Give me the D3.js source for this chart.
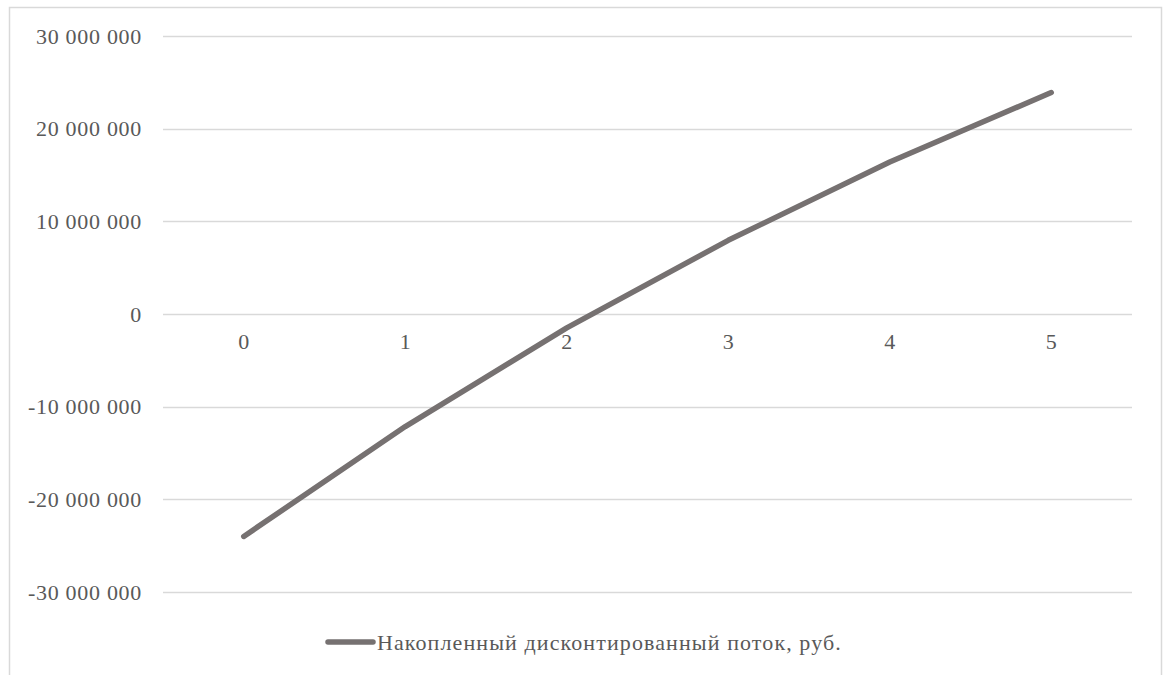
<!DOCTYPE html>
<html>
<head>
<meta charset="utf-8">
<script src="https://cdn.jsdelivr.net/npm/d3@7"></script>
<style>
  html, body { margin: 0; padding: 0; background: #fff; }
  svg { display: block; }
  svg text { font-family: 'Liberation Serif', Tinos, 'Times New Roman', Times, 'DejaVu Serif', serif !important; fill: #595959; font-size: 22px; }
  .ylab text { letter-spacing: 0.7px; }
  .legend text { letter-spacing: 1.1px; }
</style>
</head>
<body>
<svg id="chart" width="1168" height="675"></svg>
<script>
const categories = ["0", "1", "2", "3", "4", "5"];
const values = [-24000000, -12150000, -1500000, 7950000, 16400000, 23900000];
const yTicks = [-30000000, -20000000, -10000000, 0, 10000000, 20000000, 30000000];
const seriesName = "Накопленный дисконтированный поток, руб.";

const svg = d3.select("#chart");
const plot = { left: 163, right: 1132, top: 36, bottom: 592 };

// outer border
svg.append("rect")
  .attr("x", 9.5).attr("y", 7.5)
  .attr("width", 1152).attr("height", 700)
  .attr("fill", "#fff").attr("stroke", "#d9d9d9").attr("stroke-width", 1.5);

const x = d3.scaleBand().domain(categories).range([plot.left, plot.right]);
const y = d3.scaleLinear().domain([-30000000, 30000000]).range([plot.bottom, plot.top]);

const fmt = v => d3.format(",")(v).replace(/,/g, " ").replace(/\u2212/g, "-");

// gridlines
svg.append("g")
  .selectAll("line").data(yTicks).join("line")
  .attr("x1", plot.left).attr("x2", plot.right)
  .attr("y1", d => Math.round(y(d)) + 0.5).attr("y2", d => Math.round(y(d)) + 0.5)
  .attr("stroke", "#d9d9d9").attr("stroke-width", 1.5);

// y axis labels
const yAxis = d3.axisLeft(y).tickValues(yTicks).tickFormat(fmt).tickSize(0).tickPadding(21);
const gy = svg.append("g").attr("class", "ylab").attr("transform", `translate(${plot.left},0)`).call(yAxis)
  .attr("font-family", null).attr("font-size", null);
gy.select(".domain").remove();

// x axis labels (at zero line)
const xAxis = d3.axisBottom(x).tickSize(0).tickPadding(19);
const gx = svg.append("g").attr("transform", `translate(0,${y(0)})`).call(xAxis)
  .attr("font-family", null).attr("font-size", null);
gx.select(".domain").remove();

// series line
const line = d3.line()
  .x((d, i) => x(categories[i]) + x.bandwidth() / 2)
  .y(d => y(d));
svg.append("path")
  .datum(values)
  .attr("d", line)
  .attr("fill", "none")
  .attr("stroke", "#767171")
  .attr("stroke-width", 5.5)
  .attr("stroke-linecap", "round")
  .attr("stroke-linejoin", "round");

// legend
const lg = svg.append("g").attr("class", "legend");
lg.append("line")
  .attr("x1", 328).attr("x2", 373).attr("y1", 642).attr("y2", 642)
  .attr("stroke", "#767171").attr("stroke-width", 5.5).attr("stroke-linecap", "round");
lg.append("text")
  .attr("x", 377).attr("y", 650)
  .text(seriesName);
</script>
</body>
</html>
